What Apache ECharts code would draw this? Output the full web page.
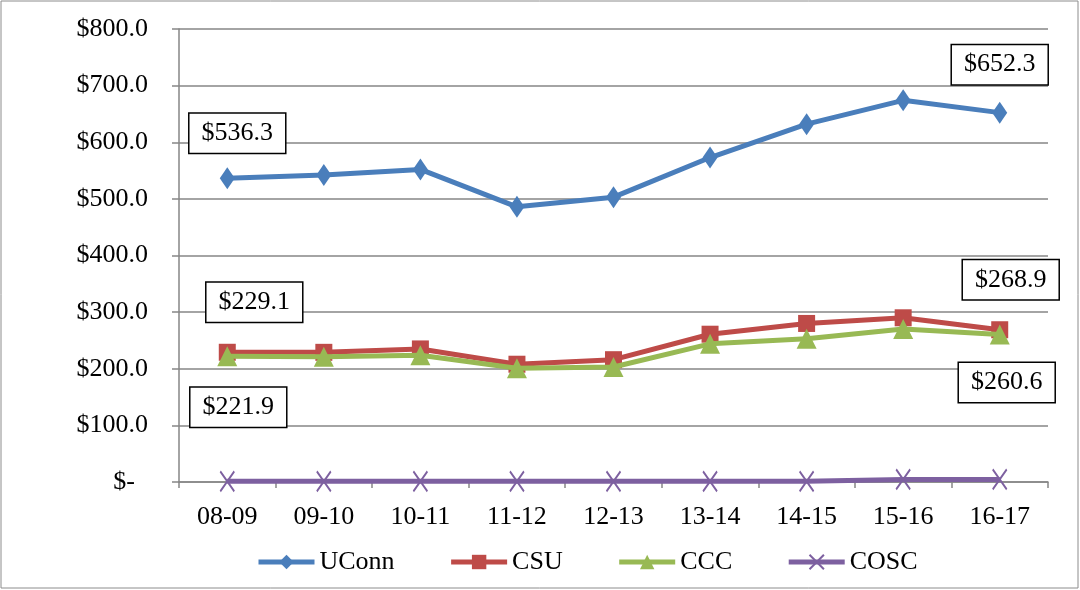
<!DOCTYPE html>
<html>
<head>
<meta charset="utf-8">
<script src="https://cdn.jsdelivr.net/npm/echarts@6/dist/echarts.min.js"></script>
<style>
html,body{margin:0;padding:0;background:#fff;}
#chart{width:1080px;height:590px;}
</style>
</head>
<body>
<div id="chart"></div>
<script>
const categories = ['08-09','09-10','10-11','11-12','12-13','13-14','14-15','15-16','16-17'];
const uconn = [536.3, 542, 552, 486, 503, 573, 632, 674, 652.3];
const csu = [229.1, 229, 235, 208, 216, 261, 280, 290, 268.9];
const ccc = [221.9, 221, 224, 201, 203, 244, 253, 270, 260.6];
const cosc = [1.2, 1.2, 1.2, 1.2, 1.2, 1.2, 1.2, 4.5, 4.5];
const yTicks = [0, 100, 200, 300, 400, 500, 600, 700, 800];

const FONT = '"Liberation Serif", "Times New Roman", serif';

function boxLabel(offset) {
  return {
    show: true,
    position: 'inside',
    offset: offset,
    formatter: p => '$' + p.value.toFixed(1),
    fontFamily: FONT,
    fontSize: 26,
    lineHeight: 26,
    color: '#000',
    backgroundColor: '#fff',
    borderColor: '#000',
    borderWidth: 1.5,
    padding: [6, 12, 7, 12]
  };
}

function buildData(values, labels) {
  return values.map((v, i) => labels[i] ? { value: v, label: labels[i] } : v);
}

const chart = echarts.init(document.getElementById('chart'));
chart.setOption({
  animation: false,
  backgroundColor: '#fff',
  textStyle: { fontFamily: FONT },
  graphic: [{
    type: 'rect', shape: { x: 1, y: 1, width: 1077, height: 587 },
    style: { fill: 'none', stroke: '#8c8c8c', lineWidth: 1 }, z: -1
  }],
  grid: { left: 179, right: 32, top: 29, bottom: 108, containLabel: false },
  legend: {
    left: 256, top: 549, padding: 0,
    itemWidth: 56, itemHeight: 18, itemGap: 54,
    lineStyle: { width: 5 },
    textStyle: { fontFamily: FONT, fontSize: 26, color: '#000' },
    data: ['UConn', 'CSU', 'CCC', 'COSC']
  },
  xAxis: {
    type: 'category',
    data: categories,
    boundaryGap: true,
    axisLine: { lineStyle: { color: '#868686', width: 1.5 } },
    axisTick: { show: true, length: 6, interval: 0, lineStyle: { color: '#868686', width: 1.5 } },
    axisLabel: { fontFamily: FONT, fontSize: 26, color: '#000', margin: 22, interval: 0 },
    splitLine: { show: false }
  },
  yAxis: {
    type: 'value',
    min: yTicks[0], max: yTicks[yTicks.length - 1], interval: 100,
    axisLine: { show: true, lineStyle: { color: '#868686', width: 1.5 } },
    axisTick: { show: true, length: 7, lineStyle: { color: '#868686', width: 1.5 } },
    axisLabel: {
      fontFamily: FONT, fontSize: 26, color: '#000', margin: 31,
      formatter: v => v === 0 ? '$-  ' : '$' + v.toFixed(1)
    },
    splitLine: { lineStyle: { color: '#868686', width: 1.5 } }
  },
  series: [
    {
      name: 'UConn', type: 'line',
      data: buildData(uconn, { 0: boxLabel([10, -45]), 8: boxLabel([0, -48]) }),
      color: '#4a7ebb',
      lineStyle: { width: 5, color: '#4a7ebb' },
      symbol: 'diamond', symbolSize: [15, 22],
      itemStyle: { color: '#4a7ebb' }, z: 4
    },
    {
      name: 'CSU', type: 'line',
      data: buildData(csu, { 0: boxLabel([27, -50]), 8: boxLabel([11, -50]) }),
      color: '#be4b48',
      lineStyle: { width: 5, color: '#be4b48' },
      symbol: 'rect', symbolSize: 17,
      itemStyle: { color: '#be4b48' }, z: 3
    },
    {
      name: 'CCC', type: 'line',
      data: buildData(ccc, { 0: boxLabel([11, 51]), 8: boxLabel([7, 48]) }),
      color: '#98b954',
      lineStyle: { width: 5, color: '#98b954' },
      symbol: 'triangle', symbolSize: [20, 20],
      itemStyle: { color: '#98b954' }, z: 4
    },
    {
      name: 'COSC', type: 'line',
      data: cosc,
      color: '#7d60a0',
      lineStyle: { width: 5, color: '#7d60a0' },
      symbol: 'path://M0,0L10,14M10,0L0,14', symbolSize: [14, 20],
      itemStyle: { color: 'none', borderColor: '#7d60a0', borderWidth: 2 }, z: 3
    }
  ]
});
</script>
</body>
</html>
